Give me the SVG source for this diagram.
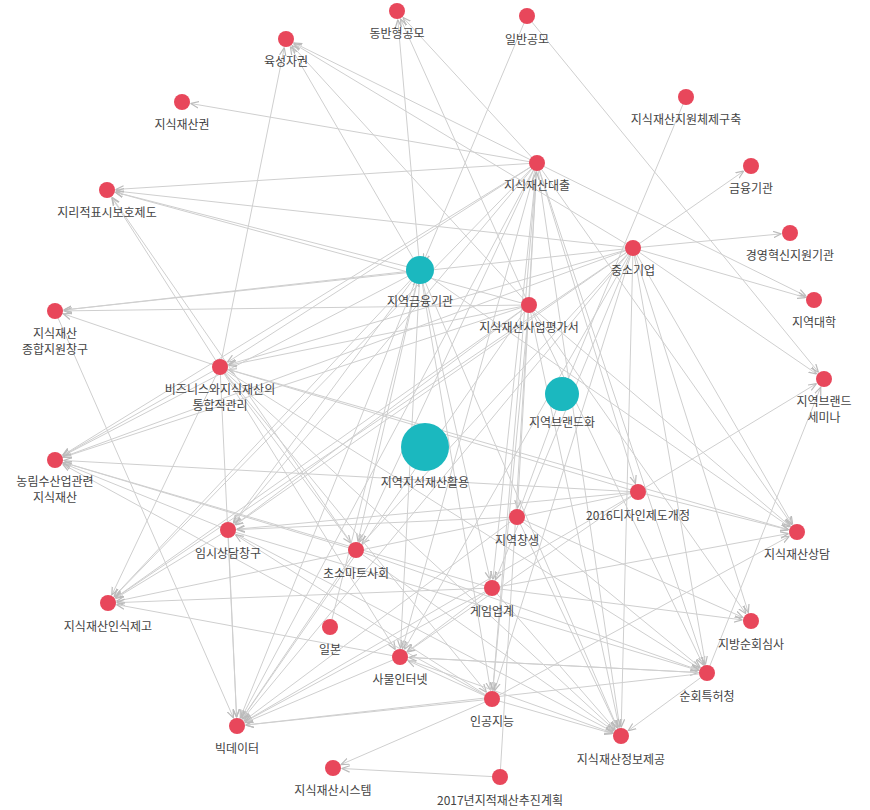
<svg xmlns="http://www.w3.org/2000/svg" width="870" height="810" viewBox="0 0 870 810">
<style>
.e line{stroke:#cfcfcf;stroke-width:1;marker-end:url(#a)}
.n circle{fill:#e8475b}
.t circle{fill:#1bb8bf}
text{font-family:"Noto Sans CJK KR","Noto Sans",sans-serif;font-size:12px;fill:#444;text-anchor:middle}
</style>
<defs><marker id="a" viewBox="0 0 10 10" refX="21" refY="5" markerWidth="8" markerHeight="8" markerUnits="userSpaceOnUse" orient="auto"><path d="M0,1 L10,5 L0,9" fill="none" stroke="#bbb" stroke-width="1.5"/></marker></defs>
<rect width="870" height="810" fill="#fff"/>
<g class="e" id="edges">
<line x1="420" y1="270" x2="286" y2="39"/><line x1="420" y1="270" x2="397" y2="11"/><line x1="420" y1="270" x2="107" y2="190"/><line x1="420" y1="270" x2="55" y2="311"/><line x1="420" y1="270" x2="55" y2="460"/><line x1="420" y1="270" x2="228" y2="530"/><line x1="420" y1="270" x2="108" y2="603"/><line x1="420" y1="270" x2="237" y2="726"/><line x1="420" y1="270" x2="400" y2="657"/><line x1="420" y1="270" x2="492" y2="699"/><line x1="420" y1="270" x2="492" y2="588"/><line x1="420" y1="270" x2="621" y2="736"/><line x1="420" y1="270" x2="356" y2="550"/><line x1="420" y1="270" x2="797" y2="532"/>
<line x1="537" y1="163" x2="286" y2="39"/><line x1="537" y1="163" x2="397" y2="11"/><line x1="537" y1="163" x2="182" y2="102"/><line x1="537" y1="163" x2="107" y2="190"/><line x1="537" y1="163" x2="220" y2="367"/><line x1="537" y1="163" x2="55" y2="460"/><line x1="537" y1="163" x2="228" y2="530"/><line x1="537" y1="163" x2="356" y2="550"/><line x1="537" y1="163" x2="400" y2="657"/><line x1="537" y1="163" x2="492" y2="699"/><line x1="537" y1="163" x2="492" y2="588"/><line x1="537" y1="163" x2="621" y2="736"/><line x1="537" y1="163" x2="517" y2="517"/><line x1="537" y1="163" x2="638" y2="492"/><line x1="537" y1="163" x2="797" y2="532"/><line x1="537" y1="163" x2="707" y2="673"/><line x1="537" y1="163" x2="814" y2="300"/><line x1="537" y1="163" x2="108" y2="603"/><line x1="537" y1="163" x2="237" y2="726"/>
<line x1="633" y1="248" x2="751" y2="166"/><line x1="633" y1="248" x2="790" y2="233"/><line x1="633" y1="248" x2="814" y2="300"/><line x1="633" y1="248" x2="824" y2="379"/><line x1="633" y1="248" x2="797" y2="532"/><line x1="633" y1="248" x2="751" y2="621"/><line x1="633" y1="248" x2="707" y2="673"/><line x1="633" y1="248" x2="621" y2="736"/><line x1="633" y1="248" x2="492" y2="699"/><line x1="633" y1="248" x2="492" y2="588"/><line x1="633" y1="248" x2="220" y2="367"/><line x1="633" y1="248" x2="107" y2="190"/><line x1="633" y1="248" x2="55" y2="311"/><line x1="633" y1="248" x2="55" y2="460"/><line x1="633" y1="248" x2="228" y2="530"/><line x1="633" y1="248" x2="356" y2="550"/><line x1="633" y1="248" x2="286" y2="39"/><line x1="633" y1="248" x2="108" y2="603"/><line x1="633" y1="248" x2="237" y2="726"/><line x1="633" y1="248" x2="400" y2="657"/>
<line x1="529" y1="305" x2="286" y2="39"/><line x1="529" y1="305" x2="397" y2="11"/><line x1="529" y1="305" x2="107" y2="190"/><line x1="529" y1="305" x2="55" y2="311"/><line x1="529" y1="305" x2="220" y2="367"/><line x1="529" y1="305" x2="228" y2="530"/><line x1="529" y1="305" x2="55" y2="460"/><line x1="529" y1="305" x2="108" y2="603"/><line x1="529" y1="305" x2="237" y2="726"/><line x1="529" y1="305" x2="492" y2="699"/><line x1="529" y1="305" x2="621" y2="736"/><line x1="529" y1="305" x2="707" y2="673"/><line x1="529" y1="305" x2="797" y2="532"/><line x1="529" y1="305" x2="751" y2="621"/>
<line x1="527" y1="16" x2="420" y2="270"/><line x1="527" y1="16" x2="824" y2="379"/><line x1="686" y1="97" x2="562" y2="394"/><line x1="500" y1="777" x2="537" y2="163"/>
<line x1="638" y1="492" x2="824" y2="379"/><line x1="638" y1="492" x2="220" y2="367"/><line x1="638" y1="492" x2="55" y2="460"/><line x1="638" y1="492" x2="228" y2="530"/><line x1="638" y1="492" x2="797" y2="532"/><line x1="638" y1="492" x2="108" y2="603"/><line x1="638" y1="492" x2="237" y2="726"/><line x1="638" y1="492" x2="400" y2="657"/>
<line x1="220" y1="367" x2="107" y2="190"/><line x1="220" y1="367" x2="286" y2="39"/><line x1="220" y1="367" x2="55" y2="311"/><line x1="220" y1="367" x2="55" y2="460"/><line x1="220" y1="367" x2="108" y2="603"/><line x1="220" y1="367" x2="237" y2="726"/><line x1="220" y1="367" x2="400" y2="657"/><line x1="220" y1="367" x2="492" y2="699"/><line x1="220" y1="367" x2="621" y2="736"/><line x1="220" y1="367" x2="707" y2="673"/><line x1="220" y1="367" x2="797" y2="532"/><line x1="220" y1="367" x2="356" y2="550"/>
<line x1="517" y1="517" x2="228" y2="530"/><line x1="517" y1="517" x2="237" y2="726"/><line x1="517" y1="517" x2="621" y2="736"/><line x1="517" y1="517" x2="707" y2="673"/><line x1="517" y1="517" x2="751" y2="621"/><line x1="517" y1="517" x2="562" y2="394"/>
<line x1="228" y1="530" x2="621" y2="736"/><line x1="228" y1="530" x2="707" y2="673"/><line x1="228" y1="530" x2="237" y2="726"/><line x1="228" y1="530" x2="108" y2="603"/><line x1="228" y1="530" x2="55" y2="460"/>
<line x1="356" y1="550" x2="621" y2="736"/><line x1="356" y1="550" x2="707" y2="673"/><line x1="356" y1="550" x2="237" y2="726"/><line x1="356" y1="550" x2="55" y2="460"/><line x1="356" y1="550" x2="107" y2="190"/>
<line x1="492" y1="588" x2="237" y2="726"/><line x1="492" y1="588" x2="400" y2="657"/><line x1="492" y1="588" x2="621" y2="736"/><line x1="492" y1="588" x2="55" y2="460"/><line x1="492" y1="588" x2="108" y2="603"/><line x1="492" y1="588" x2="797" y2="532"/><line x1="492" y1="588" x2="751" y2="621"/>
<line x1="492" y1="699" x2="237" y2="726"/><line x1="492" y1="699" x2="400" y2="657"/><line x1="492" y1="699" x2="333" y2="768"/><line x1="492" y1="699" x2="621" y2="736"/><line x1="492" y1="699" x2="797" y2="532"/><line x1="492" y1="699" x2="55" y2="460"/><line x1="492" y1="699" x2="228" y2="530"/>
<line x1="400" y1="657" x2="237" y2="726"/><line x1="400" y1="657" x2="621" y2="736"/><line x1="400" y1="657" x2="108" y2="603"/><line x1="400" y1="657" x2="707" y2="673"/>
<line x1="707" y1="673" x2="621" y2="736"/><line x1="707" y1="673" x2="400" y2="657"/><line x1="707" y1="673" x2="237" y2="726"/><line x1="707" y1="673" x2="824" y2="379"/>
<line x1="500" y1="777" x2="333" y2="768"/><line x1="330" y1="627" x2="420" y2="270"/><line x1="55" y1="311" x2="237" y2="726"/>
</g>
<g id="n1" class="n"><circle cx="397" cy="11" r="8"/><text x="397" y="38">동반형공모</text></g>
<g id="n2" class="n"><circle cx="527" cy="16" r="8"/><text x="527" y="44">일반공모</text></g>
<g id="n3" class="n"><circle cx="286" cy="39" r="8"/><text x="286" y="66">육성자권</text></g>
<g id="n4" class="n"><circle cx="182" cy="102" r="8"/><text x="182" y="129">지식재산권</text></g>
<g id="n5" class="n"><circle cx="686" cy="97" r="8"/><text x="686" y="124">지식재산지원체제구축</text></g>
<g id="n6" class="n"><circle cx="751" cy="166" r="8"/><text x="751" y="193">금융기관</text></g>
<g id="n7" class="n"><circle cx="537" cy="163" r="8"/><text x="537" y="190">지식재산대출</text></g>
<g id="n8" class="n"><circle cx="107" cy="190" r="8"/><text x="107" y="217">지리적표시보호제도</text></g>
<g id="n9" class="n"><circle cx="790" cy="233" r="8"/><text x="790" y="260">경영혁신지원기관</text></g>
<g id="n10" class="n"><circle cx="633" cy="248" r="8"/><text x="633" y="275">중소기업</text></g>
<g id="n11" class="t"><circle cx="420" cy="270" r="14"/><text x="420" y="306">지역금융기관</text></g>
<g id="n12" class="n"><circle cx="529" cy="305" r="8"/><text x="529" y="332">지식재산사업평가서</text></g>
<g id="n13" class="n"><circle cx="814" cy="300" r="8"/><text x="814" y="327">지역대학</text></g>
<g id="n14" class="n"><circle cx="55" cy="311" r="8"/><text x="55" y="338">지식재산</text><text x="55" y="354">종합지원창구</text></g>
<g id="n15" class="n"><circle cx="220" cy="367" r="8"/><text x="220" y="394">비즈니스와지식재산의</text><text x="220" y="410">통합적관리</text></g>
<g id="n16" class="n"><circle cx="824" cy="379" r="8"/><text x="824" y="406">지역브랜드</text><text x="824" y="422">세미나</text></g>
<g id="n17" class="t"><circle cx="562" cy="394" r="17"/><text x="562" y="427">지역브랜드화</text></g>
<g id="n18" class="t"><circle cx="425" cy="447" r="24"/><text x="425" y="487">지역지식재산활용</text></g>
<g id="n19" class="n"><circle cx="55" cy="460" r="8"/><text x="55" y="486">농림수산업관련</text><text x="55" y="502">지식재산</text></g>
<g id="n20" class="n"><circle cx="638" cy="492" r="8"/><text x="638" y="520">2016디자인제도개정</text></g>
<g id="n21" class="n"><circle cx="517" cy="517" r="8"/><text x="517" y="545">지역창생</text></g>
<g id="n22" class="n"><circle cx="228" cy="530" r="8"/><text x="228" y="558">임시상담창구</text></g>
<g id="n23" class="n"><circle cx="797" cy="532" r="8"/><text x="797" y="559">지식재산상담</text></g>
<g id="n24" class="n"><circle cx="356" cy="550" r="8"/><text x="356" y="578">초소마트사회</text></g>
<g id="n25" class="n"><circle cx="492" cy="588" r="8"/><text x="492" y="616">게임업계</text></g>
<g id="n26" class="n"><circle cx="108" cy="603" r="8"/><text x="108" y="631">지식재산인식제고</text></g>
<g id="n27" class="n"><circle cx="330" cy="627" r="8"/><text x="330" y="654">일본</text></g>
<g id="n28" class="n"><circle cx="751" cy="621" r="8"/><text x="751" y="649">지방순회심사</text></g>
<g id="n29" class="n"><circle cx="400" cy="657" r="8"/><text x="400" y="684">사물인터넷</text></g>
<g id="n30" class="n"><circle cx="707" cy="673" r="8"/><text x="707" y="701">순회특허청</text></g>
<g id="n31" class="n"><circle cx="492" cy="699" r="8"/><text x="492" y="726">인공지능</text></g>
<g id="n32" class="n"><circle cx="237" cy="726" r="8"/><text x="237" y="753">빅데이터</text></g>
<g id="n33" class="n"><circle cx="621" cy="736" r="8"/><text x="621" y="764">지식재산정보제공</text></g>
<g id="n34" class="n"><circle cx="333" cy="768" r="8"/><text x="333" y="795">지식재산시스템</text></g>
<g id="n35" class="n"><circle cx="500" cy="777" r="8"/><text x="500" y="805">2017년지적재산추진계획</text></g>
</svg>
